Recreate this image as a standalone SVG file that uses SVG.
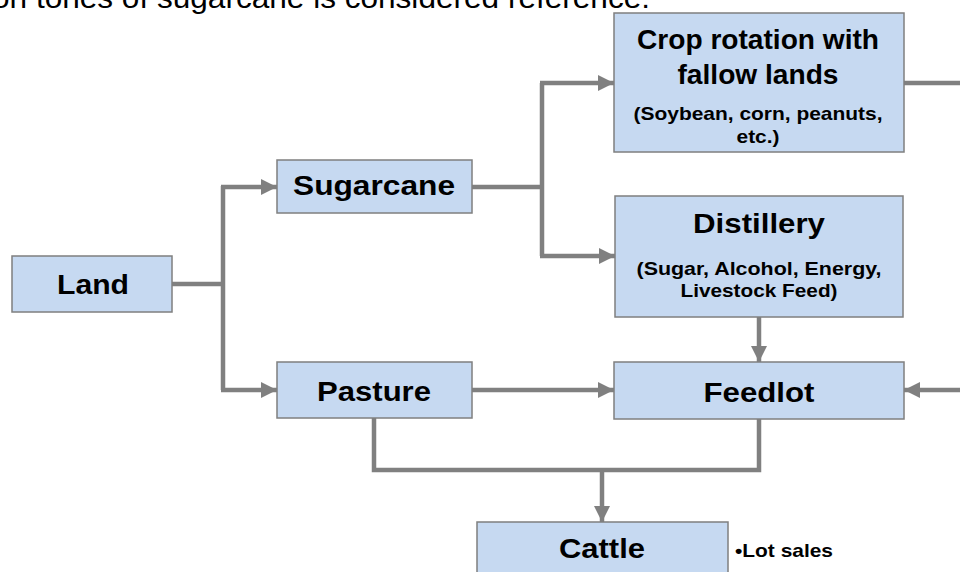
<svg xmlns="http://www.w3.org/2000/svg" width="960" height="572" viewBox="0 0 960 572">
<style>
.box{fill:#C6D9F1;stroke:#7F7F7F;stroke-width:1.5}
.t{font-family:"Liberation Sans",Arial,sans-serif;font-weight:bold;font-size:28px;fill:#000;text-anchor:middle}
.s{font-family:"Liberation Sans",Arial,sans-serif;font-weight:bold;font-size:19px;fill:#000;text-anchor:middle}
.c{fill:none;stroke:#808080;stroke-width:4.5}
.top{font-family:"Liberation Sans",Arial,sans-serif;font-size:29px;fill:#000}
</style>
<defs>
<marker id="ah" markerUnits="userSpaceOnUse" markerWidth="17" markerHeight="16" refX="16" refY="8" orient="auto">
<path d="M0,0 L16,8 L0,16 Z" fill="#808080"/>
</marker>
</defs>
<rect width="960" height="572" fill="#fff"/>
<text class="top" x="-8" y="8" textLength="658" lengthAdjust="spacingAndGlyphs">on tones of sugarcane is considered reference.</text>
<g id="connectors">
<path class="c" d="M172,284 H223"/>
<path class="c" d="M223,186 V390"/>
<path class="c" d="M221,187 H277" marker-end="url(#ah)"/>
<path class="c" d="M221,390 H277" marker-end="url(#ah)"/>
<path class="c" d="M472,187 H542"/>
<path class="c" d="M542,83 V256"/>
<path class="c" d="M540,83 H614" marker-end="url(#ah)"/>
<path class="c" d="M540,256 H615" marker-end="url(#ah)"/>
<path class="c" d="M904,83 H960"/>
<path class="c" d="M960,390 H904" marker-end="url(#ah)"/>
<path class="c" d="M759,317 V362" marker-end="url(#ah)"/>
<path class="c" d="M472,390 H614" marker-end="url(#ah)"/>
<path class="c" d="M374,418 V470 H759 V419"/>
<path class="c" d="M602,470 V522" marker-end="url(#ah)"/>
</g>
<g id="land">
<rect class="box" x="12" y="256" width="160" height="56"/>
<text class="t" x="93" y="294" textLength="72" lengthAdjust="spacingAndGlyphs">Land</text>
</g>
<g id="sugarcane">
<rect class="box" x="277" y="160" width="195" height="53"/>
<text class="t" x="374" y="195" textLength="162" lengthAdjust="spacingAndGlyphs">Sugarcane</text>
</g>
<g id="pasture">
<rect class="box" x="277" y="362" width="195" height="56"/>
<text class="t" x="374" y="401" textLength="114" lengthAdjust="spacingAndGlyphs">Pasture</text>
</g>
<g id="crop">
<rect class="box" x="614" y="13" width="290" height="139"/>
<text class="t" x="758" y="49" textLength="242" lengthAdjust="spacingAndGlyphs">Crop rotation with</text>
<text class="t" x="758" y="84" textLength="161" lengthAdjust="spacingAndGlyphs">fallow lands</text>
<text class="s" x="758" y="120" textLength="249" lengthAdjust="spacingAndGlyphs">(Soybean, corn, peanuts,</text>
<text class="s" x="758" y="143" textLength="43" lengthAdjust="spacingAndGlyphs">etc.)</text>
</g>
<g id="distillery">
<rect class="box" x="615" y="196" width="288" height="121"/>
<text class="t" x="759" y="233" textLength="132" lengthAdjust="spacingAndGlyphs">Distillery</text>
<text class="s" x="759" y="275" textLength="245" lengthAdjust="spacingAndGlyphs">(Sugar, Alcohol, Energy,</text>
<text class="s" x="759" y="297" textLength="157" lengthAdjust="spacingAndGlyphs">Livestock Feed)</text>
</g>
<g id="feedlot">
<rect class="box" x="614" y="362" width="290" height="57"/>
<text class="t" x="759" y="402" textLength="111" lengthAdjust="spacingAndGlyphs">Feedlot</text>
</g>
<g id="cattle">
<rect class="box" x="477" y="522" width="251" height="60"/>
<text class="t" x="602" y="558" textLength="86" lengthAdjust="spacingAndGlyphs">Cattle</text>
</g>
<g id="lot-sales">
<text class="s" x="735" y="557" style="text-anchor:start" textLength="98" lengthAdjust="spacingAndGlyphs">•Lot sales</text>
</g>
</svg>
